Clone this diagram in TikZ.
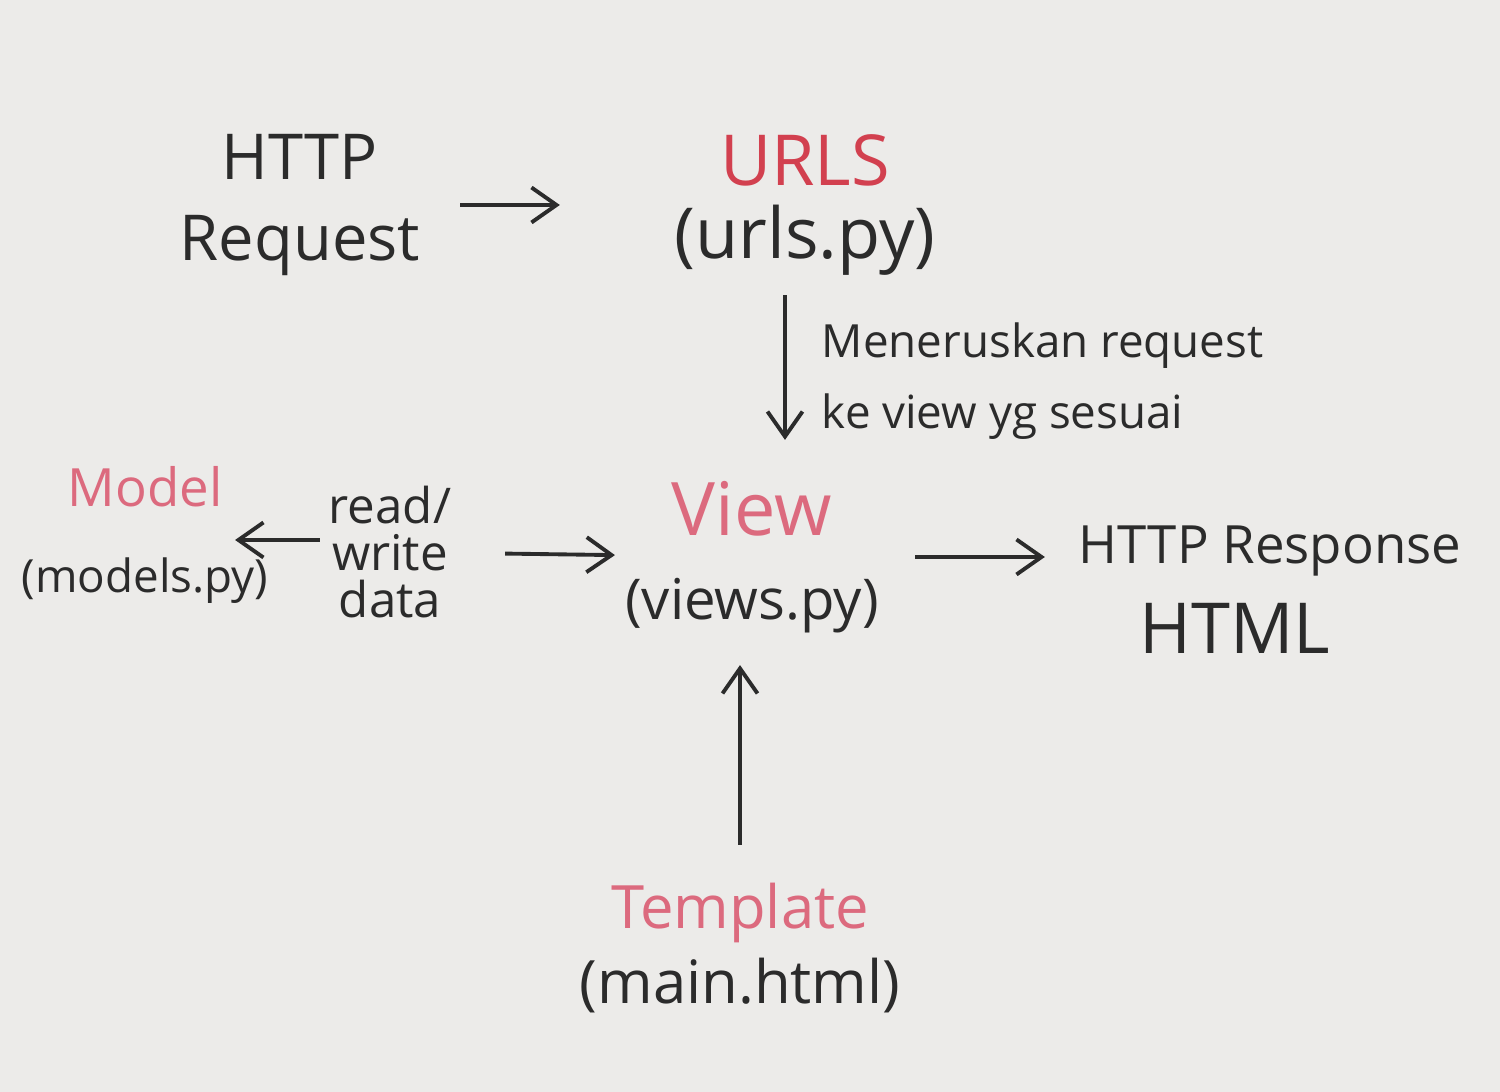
\documentclass[tikz,border=0pt]{standalone}
\usepackage{fontspec}
\setmainfont{Open Sans}
\usetikzlibrary{arrows.meta,positioning,calc}
\definecolor{paper}{HTML}{ECEBE9}
\definecolor{ink}{HTML}{2B2B2B}
\definecolor{inkred}{HTML}{D2404F}
\definecolor{inkpink}{HTML}{DC6A7E}
\newcommand{\fs}[2]{\fontsize{#1}{#2}\selectfont}

\begin{document}
\begin{tikzpicture}[x=0.01cm, y=-0.01cm,
	every node/.style={text=ink, align=center, inner sep=0pt},
	flow/.style={draw=ink, line width=1.1pt, -{Straight Barb[length=2.5mm,width=3.5mm]}}]
				\useasboundingbox (0,0) rectangle (1500,1092);
				\fill[paper] (0,0) rectangle (1500,1092);
				
				\node[font=\fs{18}{23}] (req) at (300,205) {HTTP\\Request};
				\node[font=\fs{20}{21}] (urls) at (805,205) {\textcolor{inkred}{URLS}\\(urls.py)};
				\node[font=\fs{13}{24.5}] (model) at (145,535) {\textcolor{inkpink}{\fs{15}{24.5}Model}\\(models.py)};
				\node[font=\fs{14}{13.4}] (rw) at (390,552) {read/\\write\\data};
				\node[font=\fs{16}{24}] (view) at (752,557) {\textcolor{inkpink}{\fs{21}{24}View}\\(views.py)};
				\node[font=\fs{15}{25.6}] (resp) at (1270,590) {HTTP Response\\{\fs{20}{25.6}HTML\hspace*{7mm}}};
				\node[font=\fs{17}{21.4}] (tmpl) at (740,948) {\textcolor{inkpink}{Template}\\(main.html)};
				
				\draw[flow, shorten <=16mm, shorten >=24.5mm] (req.center) -- (urls.center);
				\draw[flow, shorten <=9mm, shorten >=11.7mm] ([xshift=-2mm]urls.center) -- ([xshift=-2mm]urls.center |- view.center)
					node[midway, anchor=west, xshift=3.5mm, align=left, font=\fs{13}{20}] {Meneruskan request\\ke view yg sesuai};
				\draw[flow, shorten <=7mm, shorten >=9mm] ([yshift=1.2mm]rw.center) -- ([yshift=1.2mm]rw.center -| model.center);
				\draw[flow, shorten <=11.5mm, shorten >=13.7mm] (rw.center) -- (view.center);
				\draw[flow, shorten <=16.3mm, shorten >=22.5mm] (view.center) -- (view.center -| resp.center);
				\draw[flow, shorten <=10.3mm, shorten >=10.8mm] (tmpl.center) -- (tmpl.center |- view.center);
			\end{tikzpicture}
\end{document}
